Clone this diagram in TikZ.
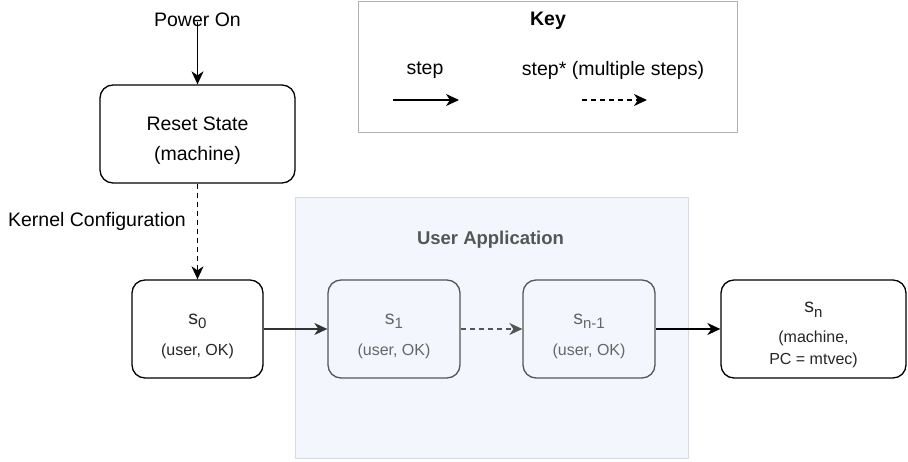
\documentclass[tikz,border=0pt]{standalone}
\usepackage{fontspec}
\setmainfont{Liberation Sans}
\usetikzlibrary{arrows.meta}
\definecolor{appfill}{HTML}{F3F7FD}
\definecolor{appline}{HTML}{D3DAE4}
\definecolor{innerline}{HTML}{555555}
\definecolor{innertext}{HTML}{666666}
\definecolor{titlegray}{HTML}{555555}
\newcommand{\bigfont}{\fontsize{19.5}{23}\selectfont}
\newcommand{\smallfont}{\fontsize{16}{22}\selectfont}
\newcommand{\mysub}[1]{\raisebox{-0.45ex}{\fontsize{15}{15}\selectfont #1}}
\newcommand{\topstrut}[1]{\rule{0pt}{#1}}
\tikzset{
  statebox/.style={draw=black, line width=1.3pt, rounded corners=13pt, fill=white,
    minimum height=98pt, align=center, inner sep=0pt, text=black!85, font=\smallfont},
  innerbox/.style={statebox, draw=innerline, fill=appfill, text=innertext},
  arr/.style={-{Stealth[length=13pt,width=12pt,inset=4pt]}, line width=1.3pt},
  dasharr/.style={arr, dash pattern=on 5pt off 4pt},
  plain/.style={inner sep=0pt, font=\bigfont}
}
\begin{document}
\begin{tikzpicture}[x=1pt,y=-1pt]
\useasboundingbox (0,0) rectangle (908,462);
% containers
\draw[fill=white, draw=black!30, line width=1pt] (358,2) rectangle (737,133);
\draw[fill=appfill, draw=appline, line width=1pt] (295,198) rectangle (688,458);
% key
\node[plain, font=\bigfont\bfseries] (keytitle) at (548,21) {Key};
\node[plain] (keystep) at (425,70) {step};
\node[plain] (keysteps) at (613,70) {step* (multiple steps)};
\coordinate (k1a) at (393,100);
\coordinate (k1b) at (459,100);
\coordinate (k2a) at (582,100);
\coordinate (k2b) at (647,100);
\draw[arr] (k1a) -- (k1b);
\draw[dasharr] (k2a) -- (k2b);
% title
\node[plain, font=\fontsize{18.5}{22}\selectfont\bfseries, text=titlegray] (apptitle) at (490.5,240) {User Application};
% nodes
\node[plain] (power) at (197.5,20) {Power On};
\node[statebox, minimum width=195pt, font=\bigfont, text=black] (reset) at (197.5,134)
  {\topstrut{28pt}Reset State\\[7pt](machine)};
\node[statebox, minimum width=131pt] (s0) at (197.5,329)
  {\topstrut{25pt}{\bigfont s\mysub{0}}\\[9pt](user, OK)};
\node[innerbox, minimum width=132pt] (s1) at (394,329)
  {\topstrut{25pt}{\bigfont s\mysub{1}}\\[9pt](user, OK)};
\node[innerbox, minimum width=132pt] (sn1) at (589,329)
  {\topstrut{25pt}{\bigfont s\mysub{n-1}}\\[9pt](user, OK)};
\node[statebox, minimum width=185pt] (sn) at (813.5,329)
  {\topstrut{23pt}{\bigfont s\mysub{n}}\\[8pt](machine,\\PC = mtvec)};
% connectors
\draw[arr] ([yshift=5pt]power.south) -- (reset.north);
\draw[dasharr] (reset.south) -- node[pos=0.4, left, plain, xshift=-11pt] (kernel) {Kernel Configuration} (s0.north);
\draw[arr, draw=black!80] (s0.east) -- (s1.west);
\draw[dasharr, draw=innerline] (s1.east) -- (sn1.west);
\draw[arr] (sn1.east) -- (sn.west);
\end{tikzpicture}
\end{document}
